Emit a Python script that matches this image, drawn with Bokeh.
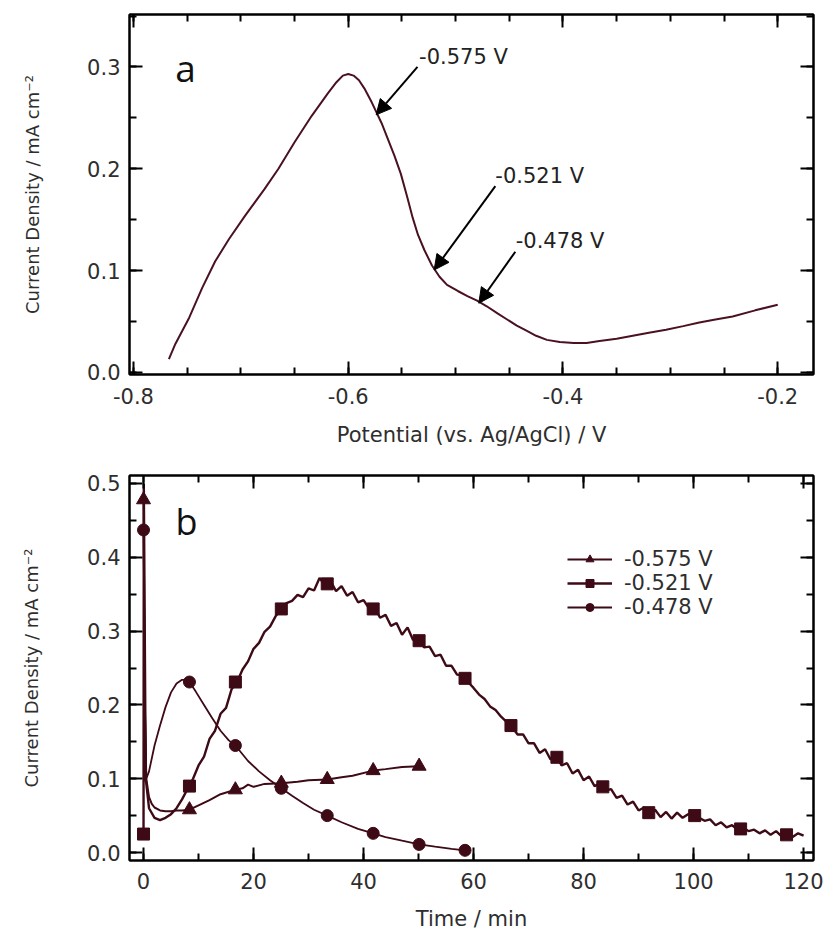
from bokeh.plotting import figure
from bokeh.layouts import column
from bokeh.models import (Range1d, FixedTicker, LinearAxis, Arrow, NormalHead,
                          Label, Legend, LegendItem)
from bokeh.embed import file_html
from bokeh.resources import INLINE

# ---------------- data: panel a (linear sweep) ----------------
cv_potential = [-0.767, -0.761, -0.748, -0.736, -0.724, -0.711, -0.696, -0.678,
                -0.665, -0.650, -0.634, -0.619, -0.611, -0.605, -0.600, -0.595,
                -0.590, -0.585, -0.578, -0.569, -0.557, -0.551, -0.545, -0.540,
                -0.535, -0.529, -0.522, -0.515, -0.508, -0.498, -0.489, -0.480,
                -0.471, -0.461, -0.452, -0.443, -0.434, -0.425, -0.415, -0.403,
                -0.390, -0.378, -0.366, -0.350, -0.335, -0.320, -0.304, -0.288,
                -0.273, -0.258, -0.242, -0.221, -0.200]
cv_current = [0.013, 0.028, 0.054, 0.083, 0.109, 0.131, 0.154, 0.180,
              0.200, 0.226, 0.252, 0.274, 0.285, 0.2915, 0.293, 0.2915,
              0.287, 0.279, 0.265, 0.245, 0.213, 0.195, 0.172, 0.152,
              0.135, 0.120, 0.105, 0.094, 0.086, 0.080, 0.075, 0.0705,
              0.065, 0.058, 0.052, 0.046, 0.041, 0.036, 0.032, 0.030,
              0.029, 0.029, 0.031, 0.033, 0.036, 0.039, 0.042, 0.0455,
              0.049, 0.052, 0.055, 0.061, 0.0665]
xa_ticks = [-0.8, -0.6, -0.4, -0.2]
xa_tick_labels = ["-0.8", "-0.6", "-0.4", "-0.2"]
xa_minor = [-0.8, -0.75, -0.7, -0.65, -0.6, -0.55, -0.5, -0.45, -0.4, -0.35,
            -0.3, -0.25, -0.2]
ya_ticks = [0.0, 0.1, 0.2, 0.3]
ya_tick_labels = ["0.0", "0.1", "0.2", "0.3"]
ya_minor = [0.0, 0.05, 0.1, 0.15, 0.2, 0.25, 0.3, 0.35]

ann_text = ["-0.575 V", "-0.521 V", "-0.478 V"]
ann_text_x = [-0.534, -0.463, -0.444]
ann_text_y = [0.310, 0.193, 0.1295]
ann_tail_x = [-0.5355, -0.463, -0.4444]
ann_tail_y = [0.300, 0.183, 0.1185]
ann_tip_x = [-0.574, -0.520, -0.4784]
ann_tip_y = [0.253, 0.1006, 0.068]

# ---------------- data: panel b (chronoamperometry) ----------------
labels_b = ["-0.575 V", "-0.521 V", "-0.478 V"]

t_575 = [0, 0.25, 0.5, 1, 1.5, 2, 3, 4, 5, 6, 7, 8.35, 10, 12, 14, 16.7, 18, 19,
         20, 22, 25.05, 28, 30, 33.4, 36, 38, 41.75, 44, 47, 50.1]
j_575 = [0.478, 0.20, 0.10, 0.075, 0.066, 0.061, 0.057, 0.056, 0.056, 0.057,
         0.057, 0.058, 0.064, 0.071, 0.079, 0.085, 0.087, 0.092, 0.089, 0.093,
         0.094, 0.096, 0.098, 0.099, 0.102, 0.104, 0.111, 0.113, 0.116, 0.117]
tm_575 = [0, 8.35, 16.7, 25.05, 33.4, 41.75, 50.1]
jm_575 = [0.478, 0.058, 0.085, 0.094, 0.099, 0.111, 0.117]

t_521 = [0, 0.05, 0.4] + list(range(1, 121))
j_521 = [0.025, 0.50, 0.10,
         0.060, 0.047, 0.044, 0.047, 0.052, 0.060, 0.072, 0.086, 0.100, 0.118,
         0.130, 0.154, 0.165, 0.188, 0.196, 0.221, 0.231, 0.248, 0.259, 0.276,
         0.284, 0.299, 0.306, 0.320, 0.329, 0.338, 0.341, 0.349, 0.346, 0.358,
         0.355, 0.372, 0.362, 0.368, 0.354, 0.361, 0.348, 0.353, 0.339, 0.342,
         0.331, 0.333, 0.318, 0.322, 0.307, 0.311, 0.295, 0.305, 0.288, 0.290,
         0.278, 0.279, 0.266, 0.268, 0.253, 0.253, 0.241, 0.240, 0.231, 0.223,
         0.214, 0.208, 0.198, 0.193, 0.184, 0.177, 0.170, 0.160, 0.160, 0.148,
         0.148, 0.135, 0.140, 0.126, 0.132, 0.118, 0.121, 0.107, 0.112, 0.098,
         0.103, 0.090, 0.094, 0.084, 0.086, 0.074, 0.077, 0.065, 0.069, 0.057,
         0.061, 0.051, 0.058, 0.048, 0.055, 0.046, 0.054, 0.047, 0.052, 0.050,
         0.047, 0.043, 0.045, 0.037, 0.041, 0.034, 0.037, 0.031, 0.034, 0.029,
         0.031, 0.026, 0.030, 0.024, 0.029, 0.022, 0.027, 0.021, 0.026, 0.023]
tm_521 = [0, 8.35, 16.7, 25.05, 33.4, 41.75, 50.1, 58.45, 66.8, 75.15, 83.5,
          91.85, 100.2, 108.55, 116.9]
jm_521 = [0.025, 0.090, 0.231, 0.330, 0.364, 0.330, 0.287, 0.236, 0.172, 0.129,
          0.089, 0.054, 0.050, 0.032, 0.024]

t_478 = [0, 0.25, 0.5, 1, 2, 3, 4, 5, 6, 7, 7.7, 8.35, 9.5, 11, 12.5, 14, 15.5,
         16.7, 19, 21, 23, 25.05, 27, 29, 31, 33.4, 36, 39, 41.75, 44, 47, 50.1,
         53, 56, 58.45]
j_478 = [0.437, 0.20, 0.10, 0.110, 0.145, 0.172, 0.197, 0.217, 0.229, 0.234,
         0.234, 0.231, 0.218, 0.200, 0.182, 0.165, 0.152, 0.145, 0.124, 0.110,
         0.098, 0.087, 0.077, 0.067, 0.058, 0.050, 0.041, 0.032, 0.026, 0.021,
         0.016, 0.011, 0.008, 0.005, 0.003]
tm_478 = [0, 8.35, 16.7, 25.05, 33.4, 41.75, 50.1, 58.45]
jm_478 = [0.437, 0.231, 0.145, 0.087, 0.050, 0.026, 0.011, 0.003]

xb_ticks = [0, 20, 40, 60, 80, 100, 120]
xb_tick_labels = ["0", "20", "40", "60", "80", "100", "120"]
xb_minor = [0, 10, 20, 30, 40, 50, 60, 70, 80, 90, 100, 110, 120]
yb_ticks = [0.0, 0.1, 0.2, 0.3, 0.4, 0.5]
yb_tick_labels = ["0.0", "0.1", "0.2", "0.3", "0.4", "0.5"]
yb_minor = [0.0, 0.05, 0.1, 0.15, 0.2, 0.25, 0.3, 0.35, 0.4, 0.45, 0.5]

# ---------------- styling ----------------
FONT = "DejaVu Sans"
TXT = "#2e2e2e"
DARK = "#3d0a16"
CVCOL = "#4a1220"


def style_axis(ax, ticks, minor, tick_labels=None, title=None,
               label_standoff=9, title_standoff=10, title_size="21px"):
    ax.ticker = FixedTicker(ticks=ticks, minor_ticks=minor)
    ax.axis_line_color = "black"
    ax.axis_line_width = 2
    ax.major_tick_in = 13
    ax.major_tick_out = 0
    ax.minor_tick_in = 7
    ax.minor_tick_out = 0
    ax.major_tick_line_color = "black"
    ax.minor_tick_line_color = "black"
    ax.major_tick_line_width = 2
    ax.minor_tick_line_width = 2
    if tick_labels is None:
        # mirrored frame ticks only: no tick labels drawn
        ax.major_label_text_color = None
        ax.major_label_text_font_size = "1px"
        ax.major_label_standoff = 0
        ax.axis_label = None
    else:
        ax.major_label_overrides = {t: s for t, s in zip(ticks, tick_labels)}
        ax.major_label_text_font = FONT
        ax.major_label_text_font_size = "21px"
        ax.major_label_text_color = TXT
        ax.major_label_standoff = label_standoff
        ax.axis_label = title
        ax.axis_label_text_font = FONT
        ax.axis_label_text_font_size = title_size
        ax.axis_label_text_font_style = "normal"
        ax.axis_label_text_color = TXT
        ax.axis_label_standoff = title_standoff


def base_fig(xr, yr, w, h, bl, br, bt, bb):
    p = figure(width=w, height=h, x_range=xr, y_range=yr,
               output_backend="svg", toolbar_location=None,
               x_axis_location=None, y_axis_location=None,
               min_border_left=bl, min_border_right=br,
               min_border_top=bt, min_border_bottom=bb)
    p.xgrid.visible = False
    p.ygrid.visible = False
    p.outline_line_color = "black"
    p.outline_line_width = 2
    p.background_fill_color = "white"
    p.border_fill_color = "white"
    return p


# ---------------- panel a ----------------
p1 = base_fig(Range1d(-0.8037, -0.1667), Range1d(-0.002, 0.3515),
              823, 449, 127, 8, 14, 72)
ax = LinearAxis()
style_axis(ax, xa_ticks, xa_minor, xa_tick_labels,
           "Potential (vs. Ag/AgCl) / V", label_standoff=13, title_standoff=16)
p1.add_layout(ax, "below")
ax = LinearAxis()
style_axis(ax, ya_ticks, ya_minor, ya_tick_labels,
           "Current Density / mA cm\u207B\u00B2", label_standoff=9,
           title_standoff=41, title_size="18px")
p1.add_layout(ax, "left")
ax = LinearAxis()
style_axis(ax, xa_ticks, xa_minor)
p1.add_layout(ax, "above")
ax = LinearAxis()
style_axis(ax, ya_ticks, ya_minor)
p1.add_layout(ax, "right")

p1.line(cv_potential, cv_current, line_color=CVCOL, line_width=2)

for txt, tx, ty, x0, y0, x1, y1 in zip(ann_text, ann_text_x, ann_text_y,
                                       ann_tail_x, ann_tail_y,
                                       ann_tip_x, ann_tip_y):
    p1.add_layout(Arrow(x_start=x0, y_start=y0, x_end=x1, y_end=y1,
                        line_color="black", line_width=2,
                        end=NormalHead(size=15, fill_color="black",
                                       line_color="black", line_width=1)))
    p1.add_layout(Label(x=tx, y=ty, text=txt, text_font=FONT,
                        text_font_size="21px", text_color="#222222",
                        text_baseline="middle", text_align="left"))

p1.add_layout(Label(x=-0.761, y=0.299, text="a", text_font="Open Sans",
                    text_font_size="37px", text_color="#111111",
                    text_baseline="alphabetic", text_align="left"))

# ---------------- panel b ----------------
p2 = base_fig(Range1d(-2.55, 121.8), Range1d(-0.0108, 0.5108),
              823, 484, 129, 10, 26, 70)
ax = LinearAxis()
style_axis(ax, xb_ticks, xb_minor, xb_tick_labels, "Time / min",
           label_standoff=12, title_standoff=15)
p2.add_layout(ax, "below")
ax = LinearAxis()
style_axis(ax, yb_ticks, yb_minor, yb_tick_labels,
           "Current Density / mA cm\u207B\u00B2", label_standoff=9,
           title_standoff=42, title_size="18px")
p2.add_layout(ax, "left")
ax = LinearAxis()
style_axis(ax, xb_ticks, xb_minor)
p2.add_layout(ax, "above")
ax = LinearAxis()
style_axis(ax, yb_ticks, yb_minor)
p2.add_layout(ax, "right")

l1 = p2.line(t_575, j_575, line_color=DARK, line_width=2)
s1 = p2.scatter(tm_575, jm_575, marker="triangle", size=14,
                fill_color=DARK, line_color=DARK)
l2 = p2.line(t_521, j_521, line_color=DARK, line_width=2.4)
s2 = p2.scatter(tm_521, jm_521, marker="square", size=12,
                fill_color=DARK, line_color=DARK)
l3 = p2.line(t_478, j_478, line_color=DARK, line_width=1.8)
s3 = p2.scatter(tm_478, jm_478, marker="circle", size=12,
                fill_color=DARK, line_color=DARK)

legend = Legend(items=[LegendItem(label=labels_b[0], renderers=[l1, s1]),
                       LegendItem(label=labels_b[1], renderers=[l2, s2]),
                       LegendItem(label=labels_b[2], renderers=[l3, s3])],
                location=(438, 241), orientation="vertical",
                border_line_color=None, background_fill_alpha=0,
                padding=0, margin=0, spacing=0,
                glyph_width=45, glyph_height=20, label_height=20,
                label_standoff=12, label_text_font=FONT,
                label_text_font_size="21px", label_text_color=TXT)
p2.add_layout(legend, "center")

p2.add_layout(Label(x=5.8, y=0.448, text="b", text_font="Open Sans",
                    text_font_size="36px", text_color="#111111",
                    text_baseline="alphabetic", text_align="left"))

layout = column(p1, p2, spacing=0)
open("out.html", "w").write(file_html(layout, INLINE))
